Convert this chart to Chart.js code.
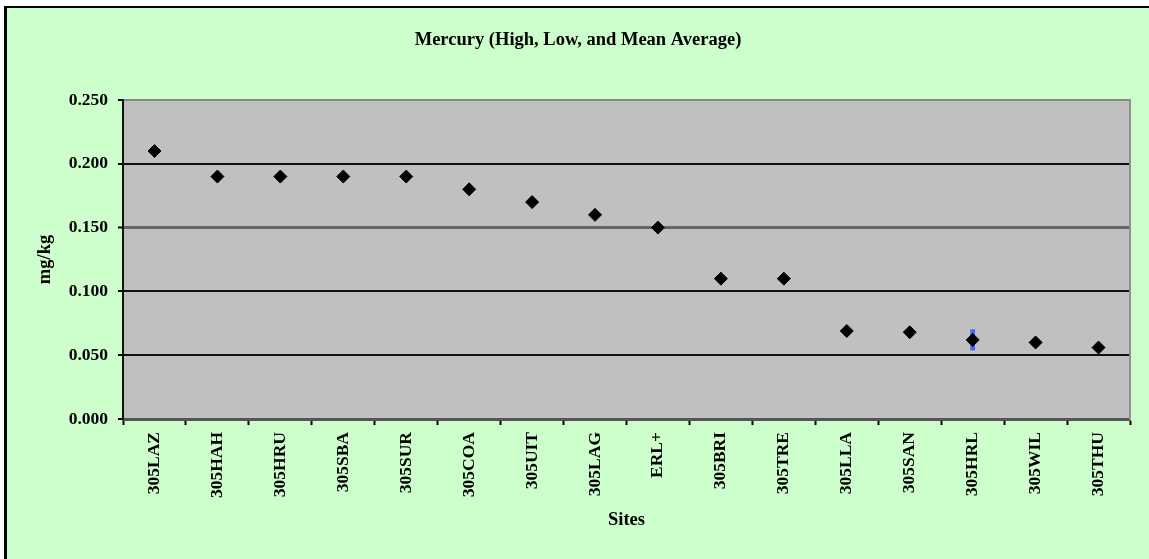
<!DOCTYPE html>
<html>
<head>
<meta charset="utf-8">
<title>Mercury (High, Low, and Mean Average)</title>
<script src="https://cdn.jsdelivr.net/npm/chart.js@4.4.1/dist/chart.umd.min.js"></script>
<style>
  html, body { margin: 0; padding: 0; background: #ffffff; overflow: hidden; }
  #frame {
    position: absolute; left: 4px; top: 6px; width: 1145px; height: 553px;
    box-sizing: border-box; border-left: 3px solid #000; border-top: 2px solid #000;
    background: #ccffcc;
  }
  #wrap { position: absolute; left: 7px; top: 8px; width: 1142px; height: 551px; }
</style>
</head>
<body>
<div id="frame"></div>
<div id="wrap"><canvas id="chart"></canvas></div>
<script>
// site codes along the x axis
const sites = ['305LAZ', '305HAH', '305HRU', '305SBA', '305SUR', '305COA', '305UIT', '305LAG',
  'ERL+', '305BRI', '305TRE', '305LLA', '305SAN', '305HRL', '305WIL', '305THU']

// mercury, mg/kg
const meanValues = [0.21, 0.19, 0.19, 0.19, 0.19, 0.18, 0.17, 0.16,
  0.15, 0.11, 0.11, 0.069, 0.068, 0.062, 0.060, 0.056]
const highValues = [0.21, 0.19, 0.19, 0.19, 0.19, 0.18, 0.17, 0.16,
  0.15, 0.11, 0.11, 0.069, 0.068, 0.070, 0.060, 0.056]
const lowValues = [0.21, 0.19, 0.19, 0.19, 0.19, 0.18, 0.17, 0.16,
  0.15, 0.11, 0.11, 0.069, 0.068, 0.054, 0.060, 0.056]

const yTicks = [0, 0.05, 0.1, 0.15, 0.2, 0.25]

const serif = 'Liberation Serif, Times New Roman, serif'

// grey plot area behind everything
const plotBackground = {
  id: 'plotBackground',
  beforeDraw (chart) {
    const { ctx, chartArea: a } = chart
    ctx.save()
    ctx.fillStyle = '#c0c0c0'
    ctx.fillRect(a.left, a.top, a.right - a.left, a.bottom - a.top)
    ctx.restore()
  }
}

const ranges = lowValues.map((lo, i) => [lo, highValues[i]])

new Chart(document.getElementById('chart'), {
  data: {
    labels: sites,
    datasets: [
      {
        type: 'line',
        label: 'Mean',
        data: meanValues,
        showLine: false,
        pointStyle: 'rectRot',
        pointRadius: 6.5,
        pointBorderWidth: 1,
        pointBackgroundColor: '#000',
        pointBorderColor: '#000',
        order: 0
      },
      {
        type: 'bar',
        label: 'High/Low',
        data: ranges,
        backgroundColor: '#3a6cf5',
        borderWidth: 0,
        barThickness: 4,
        order: 1
      }
    ]
  },
  options: {
    responsive: true,
    maintainAspectRatio: false,
    animation: false,
    layout: { padding: 0 },
    plugins: {
      legend: { display: false },
      tooltip: { enabled: false },
      title: {
        display: true,
        text: 'Mercury (High, Low, and Mean Average)',
        color: '#000',
        font: { family: serif, size: 18.5, weight: 'bold', lineHeight: 1.2 },
        padding: { top: 21, bottom: 48.8 }
      }
    },
    scales: {
      x: {
        type: 'category',
        offset: true,
        grid: {
          offset: true,
          drawOnChartArea: false,
          drawTicks: true,
          tickLength: 6,
          tickColor: '#000',
          tickWidth: 2
        },
        border: { display: true, color: '#555', width: 3 },
        ticks: {
          autoSkip: false,
          minRotation: 90,
          maxRotation: 90,
          padding: 7,
          color: '#000',
          font: { family: serif, size: 17.5, weight: 'bold' }
        },
        title: {
          display: true,
          text: 'Sites',
          color: '#000',
          font: { family: serif, size: 18.5, weight: 'bold', lineHeight: 1.2 },
          padding: { top: 0, bottom: 28 }
        },
        afterFit (scale) { scale.height = 140 }
      },
      y: {
        position: 'left',
        min: 0,
        max: 0.25,
        afterBuildTicks (scale) { scale.ticks = yTicks.map(v => ({ value: v })) },
        grid: {
          color: ctx => ctx.tick && ctx.tick.value === 0.25 ? '#888' : ctx.tick && ctx.tick.value === 0.15 ? '#666' : '#111',
          lineWidth: ctx => ctx.tick && ctx.tick.value === 0.15 ? 3 : 2,
          tickColor: '#000',
          tickWidth: 2,
          tickLength: 5
        },
        border: { display: true, color: '#111', width: 2 },
        ticks: {
          padding: 10,
          color: '#000',
          font: { family: serif, size: 17.5, weight: 'bold' },
          callback: v => Number(v).toFixed(3)
        },
        title: {
          display: true,
          text: 'mg/kg',
          color: '#000',
          font: { family: serif, size: 18.5, weight: 'bold', lineHeight: 1.2 },
          padding: { top: 27, bottom: 0 }
        },
        afterFit (scale) { scale.width = 116 }
      },
      yRight: {
        position: 'right',
        min: 0,
        max: 0.25,
        grid: { display: false },
        ticks: { display: false },
        border: { display: true, color: '#909090', width: 2 },
        afterFit (scale) { scale.width = 19 }
      }
    }
  },
  plugins: [plotBackground]
})
</script>
</body>
</html>
